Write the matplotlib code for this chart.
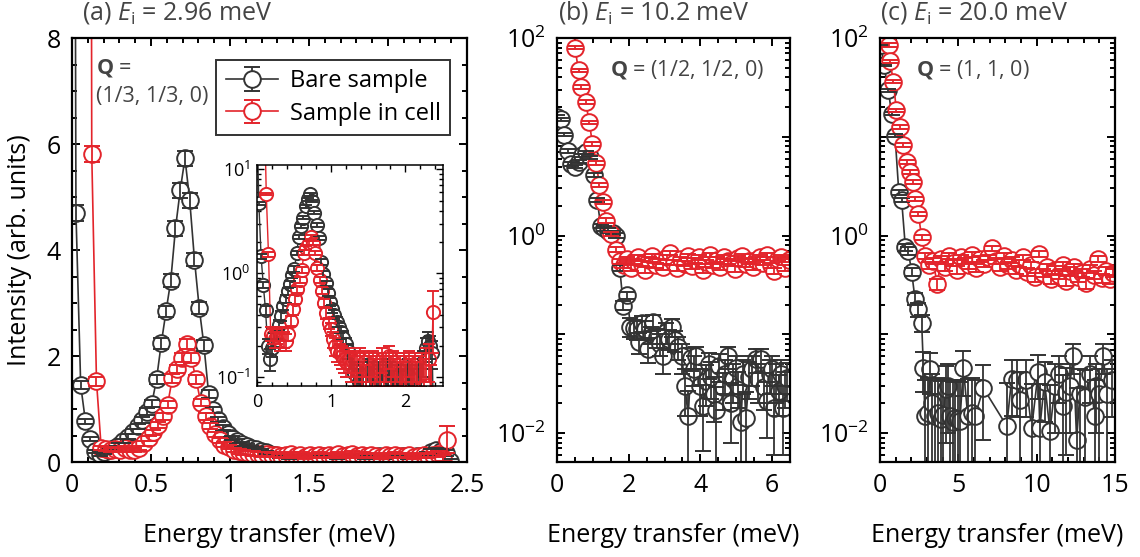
import numpy as np
import matplotlib
matplotlib.use("Agg")
import matplotlib.pyplot as plt
from matplotlib.ticker import MultipleLocator, LogLocator, FuncFormatter, NullFormatter

plt.rcParams['font.family'] = ['Open Sans', 'DejaVu Sans']
plt.rcParams['mathtext.fontset'] = 'custom'
plt.rcParams['mathtext.rm'] = 'Open Sans'
plt.rcParams['mathtext.it'] = 'Open Sans:italic'
plt.rcParams['mathtext.bf'] = 'Open Sans:bold'

# ---------------- panel (a): Ei = 2.96 meV, Q = (1/3,1/3,0) ----------------
ea_bare = [-0.005, 0.025, 0.055, 0.085, 0.115, 0.145, 0.175, 0.205, 0.235, 0.265,
           0.295, 0.325, 0.355, 0.385, 0.415, 0.445, 0.475, 0.505, 0.535, 0.565,
           0.595, 0.625, 0.655, 0.685, 0.715, 0.745, 0.775, 0.805, 0.835, 0.865,
           0.895, 0.925, 0.955, 0.985, 1.015, 1.045, 1.075, 1.105, 1.135, 1.165,
           1.195, 1.225, 1.255, 1.285, 1.315, 1.345, 1.375, 1.405, 1.435, 1.465,
           1.495, 1.525, 1.555, 1.585, 1.615, 1.645, 1.675, 1.705, 1.735, 1.765,
           1.795, 1.825, 1.855, 1.885, 1.915, 1.945, 1.975, 2.005, 2.035, 2.065,
           2.095, 2.125, 2.155, 2.185, 2.215, 2.245, 2.275, 2.305, 2.335, 2.365,
           2.395]
ia_bare = [40.0, 4.70, 1.45, 0.77, 0.44, 0.20, 0.15, 0.19, 0.23, 0.27,
           0.32, 0.39, 0.48, 0.57, 0.67, 0.79, 0.95, 1.10, 1.56, 2.24,
           2.84, 3.42, 4.41, 5.13, 5.73, 4.94, 3.82, 2.91, 2.20, 1.28,
           0.98, 0.80, 0.65, 0.53, 0.45, 0.40, 0.34, 0.30, 0.27, 0.24,
           0.21, 0.18, 0.15, 0.13, 0.11, 0.10, 0.09, 0.10, 0.11, 0.10,
           0.12, 0.10, 0.11, 0.12, 0.10, 0.11, 0.09, 0.12, 0.11, 0.10,
           0.12, 0.11, 0.09, 0.10, 0.085, 0.11, 0.09, 0.10, 0.12, 0.10,
           0.11, 0.09, 0.10, 0.12, 0.11, 0.14, 0.19, 0.22, 0.20, 0.17,
           0.01]
da_bare = [0.0, 0.15, 0.08, 0.05, 0.04, 0.035, 0.035, 0.035, 0.035, 0.035,
           0.035, 0.04, 0.04, 0.05, 0.05, 0.05, 0.06, 0.07, 0.08, 0.10,
           0.11, 0.12, 0.14, 0.14, 0.14, 0.14, 0.12, 0.11, 0.10, 0.08,
           0.06, 0.05, 0.05, 0.05, 0.04, 0.04, 0.04, 0.035, 0.035, 0.035,
           0.03, 0.03, 0.03, 0.03, 0.03, 0.03, 0.03, 0.03, 0.03, 0.03,
           0.03, 0.03, 0.03, 0.03, 0.03, 0.03, 0.03, 0.03, 0.03, 0.03,
           0.03, 0.03, 0.03, 0.03, 0.03, 0.03, 0.03, 0.03, 0.03, 0.03,
           0.03, 0.03, 0.03, 0.03, 0.03, 0.04, 0.05, 0.05, 0.05, 0.05,
           0.04]

ea_cell = [0.095, 0.125, 0.155, 0.185, 0.215, 0.245, 0.275, 0.305, 0.335, 0.365,
           0.395, 0.425, 0.455, 0.485, 0.515, 0.545, 0.575, 0.605, 0.635, 0.665,
           0.695, 0.725, 0.755, 0.785, 0.815, 0.845, 0.875, 0.905, 0.935, 0.965,
           0.995, 1.025, 1.055, 1.085, 1.115, 1.145, 1.175, 1.205, 1.235, 1.265,
           1.295, 1.325, 1.355, 1.385, 1.415, 1.445, 1.475, 1.505, 1.535, 1.565,
           1.595, 1.625, 1.655, 1.685, 1.715, 1.745, 1.775, 1.805, 1.835, 1.865,
           1.895, 1.925, 1.955, 1.985, 2.015, 2.045, 2.075, 2.105, 2.135, 2.165,
           2.195, 2.225, 2.255, 2.285, 2.315, 2.345, 2.375]
ia_cell = [60.0, 5.81, 1.52, 0.26, 0.25, 0.23, 0.25, 0.22, 0.26, 0.23,
           0.22, 0.26, 0.35, 0.45, 0.56, 0.70, 0.86, 1.08, 1.58, 1.75,
           1.97, 2.23, 1.96, 1.56, 1.12, 0.86, 0.68, 0.52, 0.41, 0.33,
           0.29, 0.23, 0.20, 0.18, 0.17, 0.16, 0.15, 0.14, 0.15, 0.13,
           0.14, 0.12, 0.13, 0.15, 0.12, 0.14, 0.09, 0.13, 0.12, 0.14,
           0.11, 0.13, 0.12, 0.15, 0.12, 0.13, 0.16, 0.12, 0.14, 0.11,
           0.13, 0.12, 0.10, 0.13, 0.12, 0.14, 0.11, 0.12, 0.13, 0.10,
           0.12, 0.13, 0.11, 0.14, 0.15, 0.07, 0.42]
da_cell = [0.0, 0.15, 0.08, 0.04, 0.04, 0.04, 0.04, 0.04, 0.04, 0.04,
           0.04, 0.04, 0.04, 0.05, 0.05, 0.06, 0.06, 0.07, 0.08, 0.08,
           0.09, 0.09, 0.09, 0.08, 0.07, 0.06, 0.05, 0.05, 0.05, 0.04,
           0.04, 0.04, 0.04, 0.04, 0.04, 0.04, 0.04, 0.04, 0.04, 0.04,
           0.04, 0.04, 0.04, 0.04, 0.04, 0.04, 0.04, 0.04, 0.04, 0.04,
           0.04, 0.04, 0.04, 0.04, 0.04, 0.04, 0.04, 0.04, 0.04, 0.04,
           0.04, 0.04, 0.04, 0.04, 0.04, 0.04, 0.04, 0.04, 0.04, 0.04,
           0.04, 0.04, 0.04, 0.05, 0.06, 0.06, 0.25]

# ---------------- panel (b): Ei = 10.2 meV, Q = (1/2,1/2,0) ----------------
eb_bare = [0.00, 0.10, 0.20, 0.30, 0.40, 0.50, 0.60, 0.70, 0.80, 0.92,
           1.02, 1.12, 1.22, 1.32, 1.42, 1.55, 1.65, 1.75, 1.85, 1.95,
           2.05, 2.14, 2.22, 2.30, 2.38, 2.46, 2.55, 2.62, 2.69, 2.78,
           2.88, 2.97, 3.05, 3.13, 3.20, 3.28, 3.38, 3.48, 3.57, 3.66,
           3.75, 3.82, 3.89, 3.98, 4.07, 4.16, 4.23, 4.30, 4.37, 4.44,
           4.53, 4.62, 4.70, 4.76, 4.85, 4.92, 4.99, 5.06, 5.13, 5.20,
           5.27, 5.36, 5.45, 5.54, 5.62, 5.68, 5.77, 5.87, 5.93, 6.00,
           6.05, 6.12, 6.19, 6.25, 6.30, 6.37, 6.43]
ib_bare = [16.0, 15.0, 10.5, 7.2, 5.3, 5.0, 5.6, 6.5, 7.0, 6.2,
           4.1, 2.3, 1.25, 1.18, 1.12, 1.07, 1.0, 0.47, 0.195, 0.25,
           0.12, 0.115, 0.113, 0.083, 0.13, 0.113, 0.071, 0.10, 0.132, 0.093,
           0.08, 0.06, 0.105, 0.09, 0.118, 0.087, 0.075, 0.06, 0.030, 0.0148,
           0.058, 0.045, 0.060, 0.030, 0.0186, 0.034, 0.05, 0.037, 0.025, 0.017,
           0.048, 0.029, 0.04, 0.060, 0.020, 0.035, 0.046, 0.03, 0.013, 0.04,
           0.0142, 0.037, 0.045, 0.056, 0.035, 0.056, 0.029, 0.021, 0.04, 0.045,
           0.018, 0.035, 0.027, 0.04, 0.018, 0.03, 0.036]
db_bare = [0.5, 0.5, 0.4, 0.3, 0.2, 0.2, 0.2, 0.25, 0.25, 0.25,
           0.15, 0.1, 0.06, 0.06, 0.06, 0.05, 0.05, 0.03, 0.02, 0.02,
           0.025, 0.025, 0.025, 0.02, 0.025, 0.025, 0.02, 0.02, 0.025, 0.02,
           0.02, 0.02, 0.025, 0.02, 0.025, 0.02, 0.02, 0.02, 0.015, 0.012,
           0.015, 0.015, 0.015, 0.015, 0.012, 0.015, 0.015, 0.015, 0.012, 0.012,
           0.015, 0.012, 0.015, 0.015, 0.012, 0.015, 0.015, 0.012, 0.012, 0.015,
           0.012, 0.015, 0.015, 0.015, 0.015, 0.015, 0.012, 0.012, 0.015, 0.015,
           0.012, 0.015, 0.012, 0.015, 0.012, 0.012, 0.015]

eb_cell = [0.50, 0.60, 0.68, 0.80, 0.90, 0.99, 1.10, 1.18, 1.27, 1.38,
           1.52, 1.64, 1.76, 1.86, 1.96, 2.06, 2.16, 2.26, 2.36, 2.46,
           2.56, 2.66, 2.76, 2.86, 2.96, 3.06, 3.16, 3.26, 3.36, 3.46,
           3.56, 3.66, 3.76, 3.86, 3.96, 4.06, 4.16, 4.26, 4.36, 4.46,
           4.56, 4.66, 4.76, 4.86, 4.96, 5.06, 5.16, 5.26, 5.36, 5.46,
           5.56, 5.66, 5.76, 5.86, 5.96, 6.06, 6.16, 6.26, 6.36, 6.46]
ib_cell = [80.0, 47.0, 32.0, 22.5, 14.0, 8.5, 5.4, 3.24, 2.19, 1.42,
           1.03, 0.72, 0.55, 0.50, 0.58, 0.47, 0.55, 0.60, 0.52, 0.45,
           0.57, 0.62, 0.50, 0.55, 0.48, 0.60, 0.66, 0.53, 0.47, 0.58,
           0.52, 0.62, 0.49, 0.56, 0.60, 0.45, 0.54, 0.63, 0.50, 0.57,
           0.48, 0.61, 0.55, 0.52, 0.46, 0.59, 0.62, 0.51, 0.55, 0.48,
           0.57, 0.60, 0.53, 0.64, 0.50, 0.44, 0.58, 0.61, 0.47, 0.57]
db_cell = [3.0, 2.0, 1.3, 0.9, 0.6, 0.35, 0.22, 0.14, 0.1, 0.07,
           0.05, 0.04, 0.03, 0.03, 0.03, 0.03, 0.03, 0.03, 0.03, 0.03,
           0.03, 0.03, 0.03, 0.03, 0.03, 0.03, 0.03, 0.03, 0.03, 0.03,
           0.03, 0.03, 0.03, 0.03, 0.03, 0.03, 0.03, 0.03, 0.03, 0.03,
           0.03, 0.03, 0.03, 0.03, 0.03, 0.03, 0.03, 0.03, 0.03, 0.03,
           0.03, 0.03, 0.03, 0.03, 0.03, 0.03, 0.03, 0.03, 0.03, 0.03]

# ---------------- panel (c): Ei = 20.0 meV, Q = (1,1,0) ----------------
ec_bare = [0.05, 0.25, 0.53, 0.74, 0.96, 1.20, 1.38, 1.62, 1.80, 2.02,
           2.23, 2.45, 2.66, 2.77, 2.87, 3.05, 3.19, 3.35, 3.51, 3.72,
           3.90, 4.04, 4.20, 4.36, 4.47, 4.63, 4.79, 4.95, 5.10, 5.32,
           5.60, 5.85, 6.06, 6.60, 8.09, 8.40, 8.72, 8.93, 9.30, 9.68,
           10.10, 10.20, 10.50, 10.85, 11.17, 11.40, 11.70, 11.90, 12.10, 12.34,
           12.55, 12.76, 13.08, 13.40, 13.70, 13.80, 14.00, 14.25, 14.50, 14.79]
ic_bare = [85.0, 53.0, 29.6, 17.2, 10.3, 2.75, 2.3, 0.76, 0.70, 0.43,
           0.23, 0.18, 0.131, 0.046, 0.0148, 0.016, 0.045, 0.02, 0.0148, 0.0159,
           0.014, 0.0153, 0.028, 0.030, 0.0148, 0.013, 0.0142, 0.014, 0.0132, 0.046,
           0.015, 0.016, 0.0148, 0.0285, 0.0118, 0.035, 0.0346, 0.0218, 0.0346, 0.0112,
           0.042, 0.0112, 0.033, 0.0106, 0.03, 0.04, 0.019, 0.026, 0.03, 0.06,
           0.0086, 0.025, 0.0232, 0.04, 0.0148, 0.03, 0.025, 0.06, 0.025, 0.0346]
dc_bare = [2.0, 1.5, 1.0, 0.6, 0.4, 0.15, 0.12, 0.06, 0.06, 0.04,
           0.03, 0.03, 0.025, 0.02, 0.02, 0.02, 0.02, 0.02, 0.02, 0.02,
           0.02, 0.02, 0.02, 0.02, 0.02, 0.02, 0.02, 0.02, 0.02, 0.022,
           0.02, 0.02, 0.02, 0.02, 0.02, 0.02, 0.02, 0.02, 0.02, 0.02,
           0.02, 0.02, 0.02, 0.02, 0.02, 0.02, 0.02, 0.02, 0.02, 0.02,
           0.02, 0.02, 0.02, 0.02, 0.02, 0.02, 0.02, 0.02, 0.02, 0.02]

ec_cell = [0.55, 0.65, 0.85, 1.05, 1.28, 1.49, 1.70, 1.90, 2.10, 2.23,
           2.45, 2.66, 2.90, 3.15, 3.40, 3.65, 3.90, 4.15, 4.40, 4.65,
           4.90, 5.15, 5.40, 5.65, 5.90, 6.15, 6.40, 6.65, 6.90, 7.15,
           7.40, 7.65, 7.90, 8.15, 8.40, 8.65, 8.90, 9.15, 9.40, 9.65,
           9.90, 10.15, 10.40, 10.65, 10.90, 11.15, 11.40, 11.65, 11.90, 12.15,
           12.40, 12.65, 12.90, 13.15, 13.40, 13.65, 13.90, 14.15, 14.40, 14.65,
           14.90]
ic_cell = [85.0, 58.0, 36.0, 18.5, 12.6, 8.2, 5.6, 4.4, 3.5, 2.35,
           1.65, 0.96, 0.62, 0.50, 0.55, 0.32, 0.58, 0.48, 0.62, 0.53,
           0.45, 0.60, 0.55, 0.50, 0.64, 0.47, 0.58, 0.52, 0.60, 0.74,
           0.55, 0.48, 0.62, 0.50, 0.57, 0.45, 0.52, 0.60, 0.43, 0.50,
           0.38, 0.65, 0.42, 0.48, 0.36, 0.45, 0.40, 0.50, 0.35, 0.44,
           0.48, 0.38, 0.42, 0.33, 0.46, 0.40, 0.58, 0.37, 0.44, 0.36,
           0.42]
dc_cell = [3.0, 2.0, 1.3, 0.7, 0.5, 0.35, 0.25, 0.2, 0.15, 0.1,
           0.08, 0.05, 0.04, 0.04, 0.04, 0.04, 0.04, 0.04, 0.04, 0.04,
           0.04, 0.04, 0.04, 0.04, 0.04, 0.04, 0.04, 0.04, 0.04, 0.04,
           0.04, 0.04, 0.04, 0.04, 0.04, 0.04, 0.04, 0.04, 0.04, 0.04,
           0.04, 0.04, 0.04, 0.04, 0.04, 0.04, 0.04, 0.04, 0.04, 0.04,
           0.04, 0.04, 0.04, 0.04, 0.04, 0.04, 0.04, 0.04, 0.04, 0.04,
           0.04]

labels = ['Bare sample', 'Sample in cell']
titles = ['(a) $E_{\\mathrm{i}}$ = 2.96 meV', '(b) $E_{\\mathrm{i}}$ = 10.2 meV',
          '(c) $E_{\\mathrm{i}}$ = 20.0 meV']

BLACK = '#333333'
RED = '#e3242b'
GRAY = '#444444'
FS = 18


def draw(ax, e, i, d, color, label=None, ms=12, cap=5.5, lw=1.2):
    return ax.errorbar(e, i, yerr=d, fmt='o-', color=color, mec=color, mfc='white',
                       ms=ms, mew=1.4, lw=lw, elinewidth=1.3, capsize=cap, capthick=1.3,
                       barsabove=True, label=label)


def style(ax, size=FS, major=6, minor=3.5):
    for s in ax.spines.values():
        s.set_linewidth(1.6)
    ax.tick_params(which='both', direction='in', top=True, right=True, width=1.4,
                   labelsize=size, pad=8)
    ax.tick_params(which='major', length=major)
    ax.tick_params(which='minor', length=minor)


def log_fmt(v, pos, every=2):
    n = int(round(np.log10(v)))
    if n % every:
        return ''
    return '10$^{%d}$' % n


fig = plt.figure(figsize=(11.4, 5.57), dpi=100)
W, H = 1140, 557
ax_a = fig.add_axes([72 / W, 1 - 462 / H, 395 / W, 424 / H])
ax_b = fig.add_axes([557 / W, 1 - 462 / H, 233 / W, 424 / H])
ax_c = fig.add_axes([880 / W, 1 - 462 / H, 235 / W, 424 / H])
ax_in = fig.add_axes([257 / W, 1 - 386 / H, 186 / W, 221 / H])

# panel a
h1 = draw(ax_a, ea_bare, ia_bare, da_bare, BLACK, labels[0])
h2 = draw(ax_a, ea_cell, ia_cell, da_cell, RED, labels[1])
ax_a.set_xlim(0, 2.5)
ax_a.set_ylim(0, 8)
ax_a.xaxis.set_major_locator(MultipleLocator(0.5))
ax_a.xaxis.set_minor_locator(MultipleLocator(0.1))
ax_a.yaxis.set_major_locator(MultipleLocator(2))
ax_a.yaxis.set_minor_locator(MultipleLocator(0.5))
ax_a.xaxis.set_major_formatter(FuncFormatter(lambda v, p: ('%g' % v)))
style(ax_a)
leg = ax_a.legend(handles=[h1, h2], loc='upper right', bbox_to_anchor=(0.957, 0.948),
                  borderaxespad=0, fontsize=17, frameon=True, fancybox=False,
                  edgecolor='black', handlelength=2.2, handletextpad=0.5,
                  borderpad=0.4, labelspacing=0.35)
leg.get_frame().set_linewidth(1.4)
ax_a.text(0.061, 0.929, '$\\mathbf{Q}$ =', transform=ax_a.transAxes, fontsize=15.5,
          color=GRAY, va='center', ha='left')
ax_a.text(0.061, 0.861, '(1/3, 1/3, 0)', transform=ax_a.transAxes, fontsize=15.5,
          color=GRAY, va='center', ha='left')
ax_a.set_xlabel('Energy transfer (meV)', fontsize=FS)
ax_a.xaxis.set_label_coords(0.5, -0.145)
ax_a.set_ylabel('Intensity (arb. units)', fontsize=FS)
ax_a.yaxis.set_label_coords(-0.1, 0.5)

# inset
draw(ax_in, ea_bare, ia_bare, da_bare, BLACK, ms=9.5, cap=4.5, lw=1.0)
draw(ax_in, ea_cell, ia_cell, da_cell, RED, ms=9.5, cap=4.5, lw=1.0)
ax_in.set_yscale('log')
ax_in.set_xlim(0, 2.51)
ax_in.set_ylim(0.082, 11)
ax_in.xaxis.set_major_locator(MultipleLocator(1))
ax_in.xaxis.set_minor_locator(MultipleLocator(0.2))
ax_in.yaxis.set_major_locator(LogLocator(base=10, numticks=10))
ax_in.yaxis.set_minor_locator(LogLocator(base=10, subs=np.arange(2, 10), numticks=20))
ax_in.yaxis.set_major_formatter(FuncFormatter(lambda v, p: log_fmt(v, p, 1)))
ax_in.yaxis.set_minor_formatter(NullFormatter())
style(ax_in, size=13, major=5, minor=3)
for s in ax_in.spines.values():
    s.set_linewidth(1.1)
ax_in.tick_params(which='both', width=1.0, pad=5)

# panels b and c
for ax, eb, ib, db, ec, ic, dc, xmax, xmaj, xmin, qtxt, qx in [
        (ax_b, eb_bare, ib_bare, db_bare, eb_cell, ib_cell, db_cell, 6.5, 2, 0.5,
         '(1/2, 1/2, 0)', 0.227),
        (ax_c, ec_bare, ic_bare, dc_bare, ec_cell, ic_cell, dc_cell, 15, 5, 1,
         '(1, 1, 0)', 0.153)]:
    draw(ax, eb, ib, db, BLACK)
    draw(ax, ec, ic, dc, RED)
    ax.set_yscale('log')
    ax.set_xlim(0, xmax)
    ax.set_ylim(0.0051, 100)
    ax.xaxis.set_major_locator(MultipleLocator(xmaj))
    ax.xaxis.set_minor_locator(MultipleLocator(xmin))
    ax.yaxis.set_major_locator(LogLocator(base=10, numticks=12))
    ax.yaxis.set_minor_locator(LogLocator(base=10, subs=np.arange(2, 10), numticks=30))
    ax.yaxis.set_major_formatter(FuncFormatter(log_fmt))
    ax.yaxis.set_minor_formatter(NullFormatter())
    style(ax)
    ax.text(qx, 0.925, '$\\mathbf{Q}$ = ' + qtxt, transform=ax.transAxes, fontsize=15.5,
            color=GRAY, va='center', ha='left')
    ax.set_xlabel('Energy transfer (meV)', fontsize=FS)
    ax.xaxis.set_label_coords(0.5, -0.145)

for x0, t in zip([82, 558, 880], titles):
    fig.text(x0 / W, 1 - 13 / H, t, fontsize=18, color=GRAY, ha='left', va='center')

fig.savefig('out.png', dpi=100)
